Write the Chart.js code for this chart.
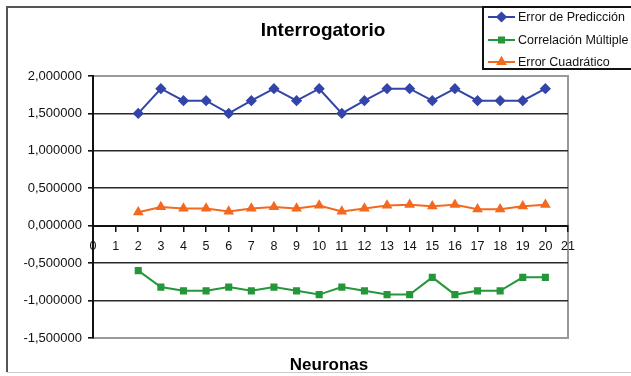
<!DOCTYPE html>
<html>
<head>
<meta charset="utf-8">
<script src="https://cdn.jsdelivr.net/npm/chart.js@4/dist/chart.umd.min.js"></script>
<style>
  html, body { margin: 0; padding: 0; background: #fff; }
  #wrap { width: 631px; height: 376px; position: relative; }
</style>
</head>
<body>
<div id="wrap"><canvas id="c" width="631" height="376"></canvas></div>
<script>
const chartTitle = 'Interrogatorio';
const xAxisTitle = 'Neuronas';
const seriesLabels = ['Error de Predicción', 'Correlación Múltiple', 'Error Cuadrático'];
const neuronas = [2, 3, 4, 5, 6, 7, 8, 9, 10, 11, 12, 13, 14, 15, 16, 17, 18, 19, 20];
const errorPrediccion = [1.5, 1.83, 1.67, 1.67, 1.5, 1.67, 1.83, 1.67, 1.83, 1.5, 1.67, 1.83, 1.83, 1.67, 1.83, 1.67, 1.67, 1.67, 1.83];
const correlacionMultiple = [-0.6, -0.82, -0.87, -0.87, -0.82, -0.87, -0.82, -0.87, -0.92, -0.82, -0.87, -0.92, -0.92, -0.69, -0.92, -0.87, -0.87, -0.69, -0.69];
const errorCuadratico = [0.18, 0.25, 0.23, 0.23, 0.19, 0.23, 0.25, 0.23, 0.27, 0.19, 0.23, 0.27, 0.28, 0.26, 0.28, 0.22, 0.22, 0.26, 0.28];
const yMin = -1.5, yMax = 2, yStep = 0.5;
const xMin = 0, xMax = 21, xStep = 1;

const FONT = "'Liberation Sans', Arial, sans-serif";
const toPoints = vals => neuronas.map((n, i) => ({ x: n, y: vals[i] }));

const decorPlugin = {
  id: 'decor',
  beforeDraw(chart) {
    const ctx = chart.ctx;
    const a = chart.chartArea;
    ctx.save();
    ctx.fillStyle = '#fff';
    ctx.fillRect(0, 0, chart.width, chart.height);
    // outer chart frame
    ctx.strokeStyle = '#555';
    ctx.lineWidth = 2;
    ctx.beginPath();
    ctx.moveTo(7, 372); ctx.lineTo(7, 7); ctx.lineTo(640, 7);
    ctx.stroke();
    ctx.strokeStyle = '#ccc';
    ctx.lineWidth = 1;
    ctx.beginPath();
    ctx.moveTo(7, 372.5); ctx.lineTo(640, 372.5);
    ctx.stroke();
    // plot area frame
    ctx.strokeStyle = '#999';
    ctx.lineWidth = 2;
    ctx.strokeRect(a.left, a.top, a.right - a.left, a.bottom - a.top);
    ctx.restore();
  },
  afterDraw(chart) {
    const ctx = chart.ctx;
    ctx.save();
    ctx.fillStyle = '#000';
    ctx.textAlign = 'center';
    ctx.textBaseline = 'middle';
    ctx.font = 'bold 19px ' + FONT;
    ctx.fillText(chartTitle, 323, 31);
    ctx.font = 'bold 17px ' + FONT;
    ctx.fillText(xAxisTitle, 329, 365);
    // legend box
    ctx.fillStyle = '#fff';
    ctx.fillRect(483, 7, 160, 62);
    ctx.strokeStyle = '#111';
    ctx.lineWidth = 2;
    ctx.strokeRect(483, 7, 160, 62);
    const rowsY = [17, 40, 62];
    chart.data.datasets.forEach((ds, i) => {
      const y = rowsY[i];
      ctx.strokeStyle = ds.borderColor;
      ctx.lineWidth = 2;
      ctx.beginPath();
      ctx.moveTo(488, y); ctx.lineTo(515, y);
      ctx.stroke();
      ctx.fillStyle = ds.pointBackgroundColor;
      ctx.strokeStyle = ds.pointBorderColor;
      Chart.helpers.drawPoint(ctx, { pointStyle: ds.pointStyle, radius: ds.pointRadius, rotation: 0, borderWidth: 1 }, 501.5, y);
      ctx.fillStyle = '#111';
      ctx.textAlign = 'left';
      ctx.textBaseline = 'middle';
      ctx.font = '12.5px ' + FONT;
      ctx.fillText(ds.label, 518, y + 1);
    });
    ctx.restore();
  }
};

new Chart(document.getElementById('c'), {
  type: 'line',
  data: {
    datasets: [
      { label: seriesLabels[0], data: toPoints(errorPrediccion), borderColor: '#3345a8', backgroundColor: '#3345a8', pointBackgroundColor: '#3345a8', pointBorderColor: '#3345a8', pointStyle: 'rectRot', pointRadius: 4.2, borderWidth: 2, tension: 0 },
      { label: seriesLabels[1], data: toPoints(correlacionMultiple), borderColor: '#25973a', backgroundColor: '#25973a', pointBackgroundColor: '#25973a', pointBorderColor: '#25973a', pointStyle: 'rect', pointRadius: 3.6, borderWidth: 2, tension: 0 },
      { label: seriesLabels[2], data: toPoints(errorCuadratico), borderColor: '#f4691f', backgroundColor: '#f4691f', pointBackgroundColor: '#f4691f', pointBorderColor: '#f4691f', pointStyle: 'triangle', pointRadius: 4.2, borderWidth: 2, tension: 0 }
    ]
  },
  options: {
    responsive: false,
    animation: false,
    devicePixelRatio: 1,
    layout: { padding: { left: 0, top: 76, right: 63, bottom: 38 } },
    plugins: { legend: { display: false }, title: { display: false }, tooltip: { enabled: false } },
    scales: {
      y: {
        type: 'linear',
        min: yMin, max: yMax,
        afterFit(scale) { scale.width = 93; },
        ticks: {
          stepSize: yStep,
          color: '#111',
          padding: 6,
          font: { family: FONT, size: 13 },
          callback: v => v.toFixed(6).replace('.', ',')
        },
        grid: {
          color: ctx => (ctx.tick && (ctx.tick.value === yMax || ctx.tick.value === yMin)) ? '#999' : '#2a2a2a',
          lineWidth: 1.6,
          tickColor: '#111',
          tickLength: 5,
          drawTicks: true
        },
        border: { display: true, color: '#111', width: 2 }
      },
      x: {
        type: 'linear',
        min: xMin, max: xMax,
        position: { y: 0 },
        ticks: {
          stepSize: xStep,
          color: '#111',
          padding: 8,
          maxRotation: 0,
          autoSkip: false,
          font: { family: FONT, size: 12.5 }
        },
        grid: { drawOnChartArea: false, drawTicks: true, tickLength: 5, tickColor: '#111', lineWidth: 1.5 },
        border: { display: true, color: '#111', width: 2 }
      }
    }
  },
  plugins: [decorPlugin]
});
</script>
</body>
</html>
